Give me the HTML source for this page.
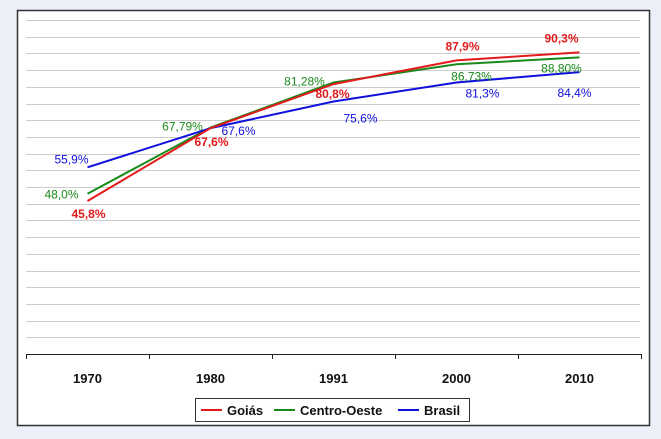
<!DOCTYPE html>
<html><head><meta charset="utf-8"><style>
html,body{margin:0;padding:0;background:#ebf0f8;}
svg{display:block;font-family:"Liberation Sans",Arial,sans-serif;}
</style></head><body>
<svg id="chart" width="661" height="439" xmlns="http://www.w3.org/2000/svg">
<rect x="0" y="0" width="661" height="439" fill="#ebf0f8"/>
<rect x="17.5" y="10.5" width="632" height="415" fill="#fff" stroke="#333" stroke-width="1.5"/>
<g id="grid"></g>
<g id="axis"></g>
<g id="series"></g>
<g id="labels"></g>
<g>
<rect x="195.5" y="398.5" width="274" height="23" fill="#fff" stroke="#333"/>
<line x1="201" y1="410" x2="222" y2="410" stroke="#e31a1c" stroke-width="2"/>
<text x="227" y="415" font-size="13" font-weight="bold" fill="#111">Goiás</text>
<line x1="274" y1="410" x2="295" y2="410" stroke="#1a8a1a" stroke-width="2"/>
<text x="300" y="415" font-size="13" font-weight="bold" fill="#111">Centro-Oeste</text>
<line x1="398" y1="410" x2="419" y2="410" stroke="#1010dd" stroke-width="2"/>
<text x="424" y="415" font-size="13" font-weight="bold" fill="#111">Brasil</text>
</g>
</svg>
<script>
const categories = ["1970","1980","1991","2000","2010"];
const goias = [45.8, 67.6, 80.8, 87.9, 90.3];
const centroOeste = [48.0, 67.79, 81.28, 86.73, 88.80];
const brasil = [55.9, 67.6, 75.6, 81.3, 84.4];
const goiasLabels = ["45,8%","67,6%","80,8%","87,9%","90,3%"];
const centroOesteLabels = ["48,0%","67,79%","81,28%","86,73%","88,80%"];
const brasilLabels = ["55,9%","67,6%","75,6%","81,3%","84,4%"];
const yMax = 100, yStep = 5;

const NS = "http://www.w3.org/2000/svg";
const plotL = 26, plotR = 641, plotT = 20, plotB = 354;
const bandW = (plotR - plotL) / categories.length;
function xPos(i){ return plotL + bandW * (i + 0.5); }
function yPos(v){ return plotB - (v / yMax) * (plotB - plotT); }
function mk(tag, attrs, parent){
  const e = document.createElementNS(NS, tag);
  for (const k in attrs) e.setAttribute(k, attrs[k]);
  parent.appendChild(e);
  return e;
}
const grid = document.getElementById("grid");
for (let v = yStep; v <= yMax; v += yStep) {
  const l = mk("line", {x1: plotL, x2: plotR - 1, y1: Math.round(yPos(v)) + 0.5, y2: Math.round(yPos(v)) + 0.5, stroke: "#cccccc", "stroke-width": 1}, grid);
  
  
}
const axis = document.getElementById("axis");
const ax = mk("line", {x1: plotL, x2: plotR, y1: plotB + 0.5, y2: plotB + 0.5, stroke: "#222", "stroke-width": 1}, axis);


for (let i = 0; i <= categories.length; i++) {
  const x = Math.round(plotL + bandW * i) + 0.5;
  const t = mk("line", {x1: x, x2: x, y1: plotB, y2: plotB + 5, stroke: "#222"}, axis);
  
  
}
categories.forEach((c, i) => {
  const t = mk("text", {x: xPos(i), y: 383, "text-anchor": "middle", "font-size": 13, "font-weight": "bold", fill: "#111"}, axis);
  t.textContent = c;
  
  
});
const seriesG = document.getElementById("series");
const labelsG = document.getElementById("labels");
const seriesDefs = [
  {name: "centro-oeste", vals: centroOeste, labels: centroOesteLabels, color: "#1a8a1a", bold: false,
   off: [[-26, 5],[-28, 3],[-29, 3],[15, 16],[-18, 15]]},
  {name: "brasil", vals: brasil, labels: brasilLabels, color: "#1010dd", bold: false,
   off: [[-16, -4],[28, 7],[27, 21],[26, 15],[-5, 25]]},
  {name: "goias", vals: goias, labels: goiasLabels, color: "#e31a1c", bold: true,
   off: [[1, 17],[1, 18],[-1, 14],[6, -10],[-18, -10]]}
];
seriesDefs.forEach(s => {
  const pts = s.vals.map((v, i) => xPos(i).toFixed(1) + "," + yPos(v).toFixed(1)).join(" ");
  const pl = mk("polyline", {points: pts, fill: "none", stroke: s.color, "stroke-width": 2}, seriesG);
  
  
});
seriesDefs.forEach(s => {
  s.vals.forEach((v, i) => {
    const t = mk("text", {x: xPos(i) + s.off[i][0], y: yPos(v) + s.off[i][1], "text-anchor": "middle", "font-size": 12, fill: s.color, "font-weight": s.bold ? "bold" : "normal"}, labelsG);
    t.textContent = s.labels[i];
    
    
  });
});
</script>
</body></html>
